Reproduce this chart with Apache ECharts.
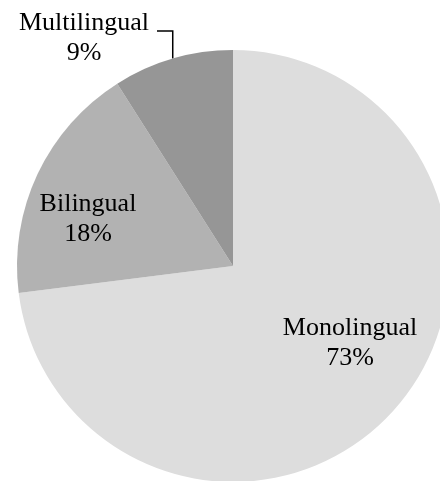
<!DOCTYPE html>
<html>
<head>
<meta charset="utf-8">
<script src="https://cdn.jsdelivr.net/npm/echarts@6/dist/echarts.min.js"></script>
<style>
html,body{margin:0;padding:0;background:#fff;}
#chart{width:440px;height:481px;}
</style>
</head>
<body>
<div id="chart"></div>
<script>
const categories = ['Monolingual', 'Bilingual', 'Multilingual'];
const percentages = [73, 18, 9];
const sliceColors = ['#dddddd', '#b2b2b2', '#969696'];

// label anchor positions (layout only)
const labelAnchors = [[350, 343], [88, 219], [84, 38]];

const chart = echarts.init(document.getElementById('chart'), null, {renderer: 'canvas'});

const data = categories.map((name, i) => ({
  name: name,
  value: percentages[i],
  itemStyle: {color: sliceColors[i]},
  label: {position: i === 2 ? 'outside' : 'inside'},
  labelLine: {show: i === 2, lineStyle: {color: '#000', width: 1.5}, length: 20, length2: 10}
}));

chart.setOption({
  animation: false,
  backgroundColor: '#ffffff',
  series: [{
    type: 'pie',
    center: [233, 266],
    radius: 216,
    startAngle: 90,
    clockwise: true,
    avoidLabelOverlap: false,
    itemStyle: {borderWidth: 0},
    emphasis: {disabled: true},
    label: {
      show: true,
      formatter: '{b}\n{c}%',
      fontFamily: 'Liberation Serif',
      fontSize: 26,
      lineHeight: 30,
      color: '#000',
      align: 'center'
    },
    labelLayout: function (params) {
      const a = labelAnchors[params.dataIndex];
      const out = {x: a[0], y: a[1], align: 'center', verticalAlign: 'middle'};
      if (params.dataIndex === 2 && params.labelLinePoints) {
        const p0 = params.labelLinePoints[0];
        const lineY = 31;
        out.labelLinePoints = [[p0[0], p0[1]], [p0[0], lineY], [157, lineY]];
      }
      return out;
    },
    data: data
  }]
});
</script>
</body>
</html>
